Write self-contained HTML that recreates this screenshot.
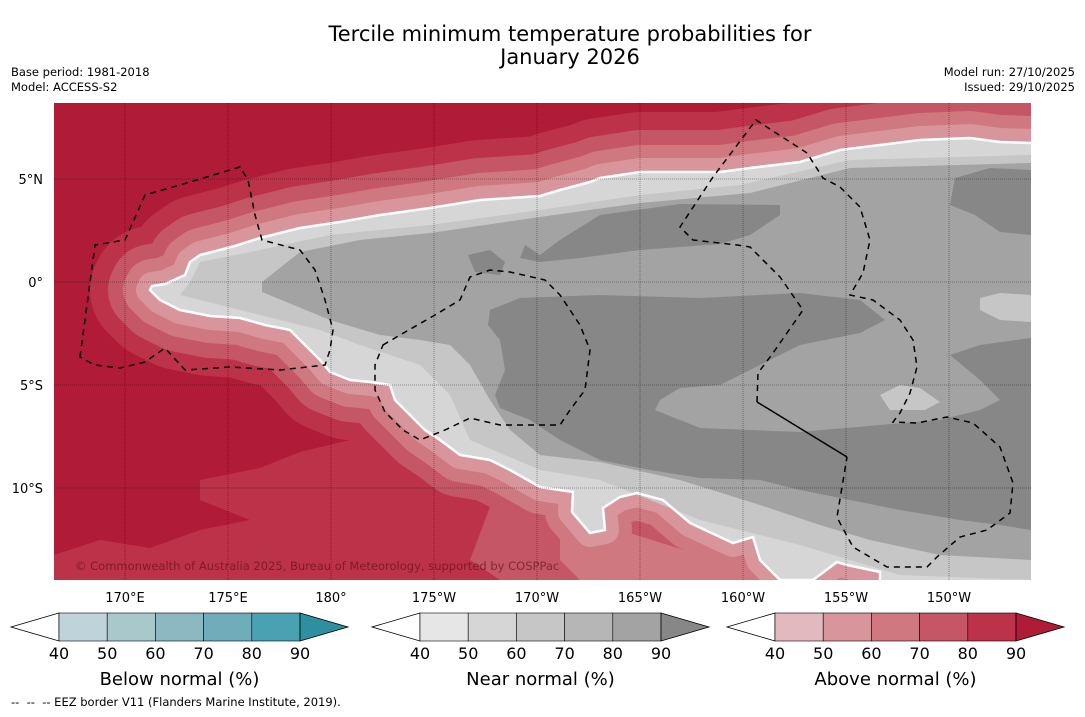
<!DOCTYPE html>
<html><head><meta charset="utf-8">
<style>
body{margin:0;background:#fff;font-family:"DejaVu Sans","Liberation Sans",sans-serif;}
svg text{font-family:"DejaVu Sans","Liberation Sans",sans-serif;}
</style></head>
<body>
<svg id="chart" width="1085" height="713" viewBox="0 0 1085 713">
<text x="570" y="41" font-size="21" text-anchor="middle">Tercile minimum temperature probabilities for</text>
<text x="570" y="64" font-size="21" text-anchor="middle">January 2026</text>
<text x="11" y="76" font-size="11.5">Base period: 1981-2018</text>
<text x="11" y="91" font-size="11.5">Model: ACCESS-S2</text>
<text x="1075" y="76" font-size="11.5" text-anchor="end">Model run: 27/10/2025</text>
<text x="1075" y="91" font-size="11.5" text-anchor="end">Issued: 29/10/2025</text>
<defs><clipPath id="mapclip"><rect x="54" y="103" width="977" height="477"/></clipPath></defs>
<g clip-path="url(#mapclip)">
<rect x="54" y="103" width="977" height="477" fill="#b01c38"/>
<path d="M200,480 L260,468 L300,452 L350,440 L400,430 L460,450 L540,487 L600,530 L700,560 L760,580 L54,580 L54,555 L100,540 L150,548 L200,530 L250,520 L200,500Z" fill="#bc3249"/>
<g id="bands"></g>
<path id="south70" d="M500,480 L560,490 L620,510 L700,540 L780,575 L800,580 L500,580 L470,560Z" fill="#c45665"/>
<path id="south60" d="M560,520 L620,530 L700,555 L780,580 L580,580 L560,560Z" fill="#cf7880"/>
<g id="bands2"></g>
<path id="grayreg" fill="#d6d6d6"/>
<path d="M200,262 L260,250 L330,235 L430,225 L540,210 L640,195 L740,185 L850,160 L1031,155 L1031,580 L900,575 L800,545 L700,520 L600,480 L540,470 L470,440 L450,395 L420,365 L360,345 L320,330 L260,315 L180,295 L190,282Z" fill="#c6c6c6"/>
<path d="M262,282 L300,252 L360,240 L430,233 L540,217 L640,203 L750,193 L850,168 L1031,163 L1031,560 L940,555 L870,540 L820,525 L760,505 L680,480 L600,462 L540,455 L510,430 L490,400 L470,365 L450,345 L420,340 L380,335 L330,320 L262,292Z" fill="#a3a3a3"/>
<path d="M490,310 L520,298 L600,295 L700,298 L800,293 L860,300 L885,320 L860,333 L800,345 L760,365 L720,385 L680,388 L660,400 L655,410 L700,428 L800,432 L880,425 L940,420 L980,410 L1000,400 L980,380 L950,355 L980,345 L1031,338 L1031,530 L1000,525 L960,520 L900,510 L850,500 L800,490 L760,480 L700,478 L650,470 L600,460 L560,440 L530,420 L500,408 L495,395 L505,370 L500,340 L488,325Z" fill="#878787"/>
<path d="M540,255 L560,240 L600,215 L680,204 L780,205 L780,215 L750,235 L720,244 L640,250 L580,258 L540,262 L520,258 L525,245Z" fill="#878787"/>
<path d="M468,255 L490,250 L505,262 L500,275 L475,272Z" fill="#878787"/>
<path d="M955,178 L990,168 L1031,170 L1031,235 L1000,232 L975,215 L950,205Z" fill="#878787"/>
<path d="M880,395 L900,385 L920,388 L940,402 L925,410 L890,410Z" fill="#c6c6c6"/>
<path d="M980,298 L1000,293 L1031,295 L1031,322 L1000,320 L980,310Z" fill="#c6c6c6"/>
<path id="whiteline" fill="none" stroke="#fff" stroke-width="2.5"/>
<g id="grid"></g>
<path d="M80,357 L95,245 L125,240 L145,195 L180,185 L240,167 L248,180 L255,215 L262,240 L300,250 L315,270 L325,300 L333,330 L330,350 L325,365 L280,370 L230,367 L185,370 L165,348 L145,362 L120,368 L95,365Z" fill="none" stroke="#000" stroke-width="1.5" stroke-dasharray="6,5"/>
<path d="M383,345 L400,335 L435,315 L460,300 L470,277 L490,270 L510,272 L545,280 L560,295 L580,325 L590,350 L585,390 L570,410 L560,425 L530,425 L500,425 L470,418 L445,430 L420,440 L403,430 L385,412 L375,390 L375,365Z" fill="none" stroke="#000" stroke-width="1.5" stroke-dasharray="6,5"/>
<path d="M757,402 L758,373 L773,353 L803,310 L780,277 L750,247 L737,245 L693,240 L680,227 L713,177 L756,120 L807,153 L823,178 L840,187 L860,207 L870,240 L863,273 L850,295 L873,300 L900,320 L913,340 L917,367 L910,393 L900,413 L893,422 L917,423 L947,417 L973,423 L1000,447 L1013,483 L1010,513 L987,530 L960,537 L937,557 L927,567 L887,567 L853,547 L840,523 L837,517 L847,457" fill="none" stroke="#000" stroke-width="1.5" stroke-dasharray="6,5"/>
<path d="M757,402 L847,457" fill="none" stroke="#000" stroke-width="1.5"/>
<text x="75" y="570" font-size="11.5" fill="rgba(90,10,20,0.6)">© Commonwealth of Australia 2025, Bureau of Meteorology, supported by COSPPac</text>
</g>
<g id="axislabels"></g>
<g id="colorbars"></g>
<text x="11" y="706" font-size="11.5">-- &#160;-- &#160;-- EEZ border V11 (Flanders Marine Institute, 2019).</text>
</svg>
<script>
const lonTicks=[170,175,180,-175,-170,-165,-160,-155,-150];
const lonLabels=["170°E","175°E","180°","175°W","170°W","165°W","160°W","155°W","150°W"];
const latTicks=[5,0,-5,-10];
const latLabels=["5°N","0°","5°S","10°S"];
const cbTicks=[40,50,60,70,80,90];
const belowColors=["#bed3da","#a8c8cc","#8cb8c2","#6eadb9","#4aa1b1","#2e8fa0"];
const nearColors=["#e6e6e6","#d6d6d6","#c6c6c6","#b6b6b6","#a3a3a3","#878787"];
const aboveColors=["#e2b9be","#d9959c","#cf7880","#c45665","#bc3249","#b01c38"];
const NS="http://www.w3.org/2000/svg";
function lonX(l){let e=l<0?l+360:l;return 125+(e-170)*20.6;}
function latY(l){return 282-l*20.6;}
function mk(t,a,p){const e=document.createElementNS(NS,t);for(const k in a)e.setAttribute(k,a[k]);p.appendChild(e);return e;}
const grayPts="M150,290 L152,286 L165,284 L185,275 L190,262 L200,255 L235,246 L260,238 L300,228 L340,222 L380,215 L430,208 L480,200 L540,196 L560,190 L590,182 L600,178 L640,172 L720,172 L750,168 L800,162 L840,150 L880,145 L920,140 L970,138 L1000,142 L1031,143 L1045,143 L1045,600 L880,600 L880,572 L847,565 L837,562 L813,580 L780,580 L760,560 L753,537 L733,543 L690,523 L663,500 L637,493 L620,497 L603,508 L605,530 L590,533 L572,512 L573,492 L540,487 L510,470 L490,460 L460,455 L440,440 L425,430 L410,415 L395,400 L390,385 L370,382 L350,380 L330,372 L320,360 L300,340 L290,330 L265,325 L240,318 L210,316 L180,310 L160,300Z";
document.getElementById('grayreg').setAttribute('d',grayPts);
document.getElementById('whiteline').setAttribute('d',grayPts);
const bands=document.getElementById('bands'),bands2=document.getElementById('bands2');
[[120,"#bc3249",bands],[84,"#c45665",bands],[54,"#cf7880",bands2],[28,"#d9959c",bands2]].forEach(b=>{
 const p=mk('path',{d:grayPts,fill:'none',stroke:b[1],'stroke-width':b[0],'stroke-linejoin':'round'},b[2]);
 
 
});
const grid=document.getElementById('grid'),ax=document.getElementById('axislabels');
lonTicks.forEach((l,i)=>{const x=lonX(l);
 const g=mk('line',{x1:x,x2:x,y1:103,y2:580,stroke:'rgba(0,0,0,0.45)','stroke-width':0.8,'stroke-dasharray':'1,1'},grid);
 
 
 const t=mk('text',{x:x,y:602,'font-size':13,'text-anchor':'middle'},ax);t.textContent=lonLabels[i];
 
 
});
latTicks.forEach((l,i)=>{const y=latY(l);
 const g=mk('line',{x1:54,x2:1031,y1:y,y2:y,stroke:'rgba(0,0,0,0.45)','stroke-width':0.8,'stroke-dasharray':'1,1'},grid);
 
 
 const t=mk('text',{x:43,y:y+5,'font-size':13,'text-anchor':'end'},ax);t.textContent=latLabels[i];
 
 
});
const cb=document.getElementById('colorbars');
[[59,belowColors,"Below normal (%)"],[420,nearColors,"Near normal (%)"],[775,aboveColors,"Above normal (%)"]].forEach(c=>{
 const x0=c[0],w=48.2,y0=613,h=28;
 const g=mk('g',{},cb);
 
 
 const lt=mk('polygon',{points:`${x0},${y0} ${x0-48},${y0+h/2} ${x0},${y0+h}`,fill:'#fff',stroke:'#000','stroke-width':0.8},g);
 
 
 for(let i=0;i<5;i++){const r=mk('rect',{x:x0+i*w,y:y0,width:w,height:h,fill:c[1][i],stroke:'#000','stroke-width':0.6},g);
  
  }
 const xe=x0+5*w;
 const rt=mk('polygon',{points:`${xe},${y0} ${xe+48},${y0+h/2} ${xe},${y0+h}`,fill:c[1][5],stroke:'#000','stroke-width':0.8},g);
 
 
 cbTicks.forEach((v,i)=>{const t=mk('text',{x:x0+i*w,y:659,'font-size':16,'text-anchor':'middle'},g);t.textContent=v;
  
  });
 const t=mk('text',{x:x0+2.5*w,y:685,'font-size':18,'text-anchor':'middle'},g);t.textContent=c[2];
 
 
});
</script>
</body></html>
